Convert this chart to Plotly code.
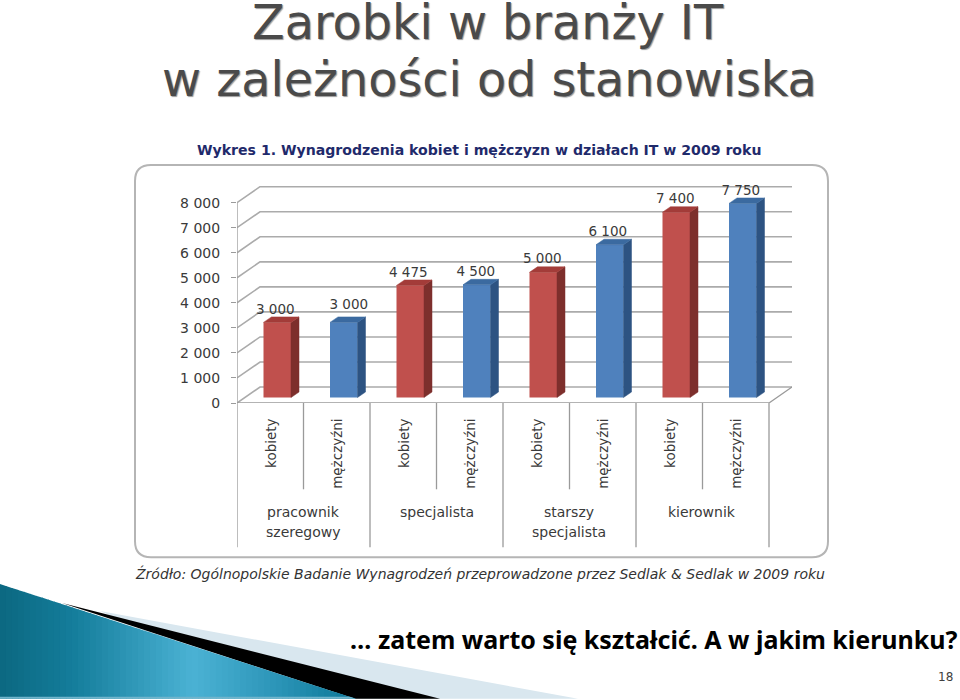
import plotly.graph_objects as go

W, H = 960, 700
categories = ["kobiety", "mężczyźni"] * 4
groups = [["pracownik", "szeregowy"], ["specjalista"], ["starszy", "specjalista"], ["kierownik"]]
values = [3000, 3000, 4475, 4500, 5000, 6100, 7400, 7750]
value_labels = ["3 000", "3 000", "4 475", "4 500", "5 000", "6 100", "7 400", "7 750"]
y_ticks = [0, 1000, 2000, 3000, 4000, 5000, 6000, 7000, 8000]
y_tick_labels = ["0", "1 000", "2 000", "3 000", "4 000", "5 000", "6 000", "7 000", "8 000"]
RED, RED_S, RED_T = "#c0504d", "#7d2f2c", "#a33c39"
BLUE, BLUE_S, BLUE_T = "#4f81bd", "#2d5382", "#3b6aa0"
GRID = "#ababab"
TXT = "#3a3a3a"

# plot area pixels
L, R, T, B = 237, 792, 186, 403.5
UX = 66.5    # px per category
UY = 0.0251  # px per unit
xmax = (R - L) / UX
ymax = (B - T) / UY
DX, DY = 23 / UX, 16 / UY          # full depth of the box
BX, BY = 7 / UX, 5.5 / UY          # bar front face offset
SX, SY = 8 / UX, 5.5 / UY          # bar depth
BW = 27.5 / UX
LABEL_DX = [-6 / UX, 1 / UX, -6 / UX, -5 / UX, -5 / UX, -6 / UX, -5 / UX, -6 / UX]
LABEL_DY = [0, 5 / UY, 0, 0, 0, 0, 0, 0]

def py(p):
    return 1 - (p - T) / (B - T)

def px(p):
    return (p - L) / (R - L)

fig = go.Figure()
grid_line = dict(color=GRID, width=1.6)

# walls: back gridlines and left-wall diagonals
for v in y_ticks:
    fig.add_trace(go.Scatter(x=[0, DX, xmax], y=[v, v + DY, v + DY], mode="lines",
                             line=grid_line, hoverinfo="skip", showlegend=False, cliponaxis=False))
fig.add_trace(go.Scatter(x=[0, 0], y=[0, 8000], mode="lines",
                         line=dict(color="#9a9a9a", width=1.3), hoverinfo="skip", showlegend=False, cliponaxis=False))
fig.add_trace(go.Scatter(x=[0, 8, xmax], y=[0, 0, DY], mode="lines",
                         line=dict(color="#9a9a9a", width=1.3), hoverinfo="skip", showlegend=False, cliponaxis=False))

# bars with side and top faces, on an overlay so they sit above the gridlines
xc = [i + 0.5 + BX for i in range(8)]
colors = [(RED, RED_S, RED_T) if i % 2 == 0 else (BLUE, BLUE_S, BLUE_T) for i in range(8)]
for xi, v, (c, cs, ct) in zip(xc, values, colors):
    xr = xi + BW / 2
    xl = xi - BW / 2
    fig.add_trace(go.Scatter(x=[xr, xr + SX, xr + SX, xr, xr], y=[BY, BY + SY, BY + v + SY, BY + v, BY],
                             mode="lines", fill="toself", fillcolor=cs, line=dict(color=cs, width=0.5),
                             hoverinfo="skip", showlegend=False, xaxis="x2", yaxis="y2"))
    fig.add_trace(go.Scatter(x=[xl, xl + SX, xr + SX, xr, xl], y=[BY + v, BY + v + SY, BY + v + SY, BY + v, BY + v],
                             mode="lines", fill="toself", fillcolor=ct, line=dict(color=ct, width=0.5),
                             hoverinfo="skip", showlegend=False, xaxis="x2", yaxis="y2"))
fig.add_trace(go.Bar(x=xc, y=values, base=BY, width=BW, marker=dict(color=[c[0] for c in colors], line=dict(width=0)),
                     showlegend=False, hoverinfo="skip", xaxis="x2", yaxis="y2"))
fig.add_trace(go.Scatter(x=[x + SX / 2 + d for x, d in zip(xc, LABEL_DX)],
                         y=[v + BY + SY + d for v, d in zip(values, LABEL_DY)], mode="text", text=value_labels,
                         textposition="top center", textfont=dict(family="DejaVu Sans", size=13.5, color=TXT),
                         hoverinfo="skip", showlegend=False, cliponaxis=False, xaxis="x2", yaxis="y2"))

shapes = []
x0, x1, y0, y1, rad = 135, 828, 165, 558, 16
def P(x, y):
    return f"{px(x):.5f} {py(y):.5f}"
path = (f"M {P(x0 + rad, y0)} L {P(x1 - rad, y0)} Q {P(x1, y0)} {P(x1, y0 + rad)} "
        f"L {P(x1, y1 - rad)} Q {P(x1, y1)} {P(x1 - rad, y1)} L {P(x0 + rad, y1)} "
        f"Q {P(x0, y1)} {P(x0, y1 - rad)} L {P(x0, y0 + rad)} Q {P(x0, y0)} {P(x0 + rad, y0)} Z")
shapes.append(dict(type="path", xref="paper", yref="paper", path=path, line=dict(color="#b5b5b5", width=2),
                   fillcolor="rgba(0,0,0,0)", layer="below"))

# category separators
for i in range(9):
    bottom = 548 if i % 2 == 0 else 490
    shapes.append(dict(type="line", xref="x", yref="paper", x0=i, x1=i, y0=py(403.5), y1=py(bottom),
                       line=dict(color="#9a9a9a", width=1.3)))

# bottom-left decoration
def poly(pts, color):
    return dict(type="path", xref="paper", yref="paper", line=dict(width=0), fillcolor=color, layer="below",
                path="M " + " L ".join(P(a, b) for a, b in pts) + " Z")

shapes.append(poly([(100, 612), (578, 700), (300, 700)], "#d9e7ef"))
shapes.append(poly([(62, 604), (440, 700), (355, 700)], "#000000"))
top = lambda x: 585 + x * 115 / 356
stops = [(0, (12, 105, 130)), (70, (20, 125, 155)), (190, (75, 178, 212)), (270, (45, 150, 185)), (356, (10, 118, 150))]
def col(x):
    for (a, ca), (b, cb) in zip(stops, stops[1:]):
        if a <= x <= b:
            t = (x - a) / (b - a)
            return "#%02x%02x%02x" % tuple(round(p + (q - p) * t) for p, q in zip(ca, cb))
    return "#0a7696"
step = 6
for x in range(0, 356, step):
    xe = min(x + step + 0.6, 356)
    shapes.append(poly([(x, top(x)), (xe, top(xe)), (xe, 700), (x, 700)], col(x)))
shapes.append(poly([(0, 698), (350, 698), (356, 700), (0, 700)], "#6fb4cb"))

ann = []
def text(x, y, s, size, color=TXT, family="DejaVu Sans", anchor="center", bold=False, italic=False, shadow=None):
    if bold:
        s = f"<b>{s}</b>"
    if italic:
        s = f"<i>{s}</i>"
    font = dict(family=family, size=size, color=color)
    if shadow:
        font["shadow"] = shadow
    ann.append(dict(xref="paper", yref="paper", x=px(x), y=py(y), text=s, showarrow=False, xanchor=anchor,
                    yanchor="middle", align="center", font=font))

soft = "1px 1px 1px rgba(0,0,0,0.4)"
text(488, 22, "Zarobki w branży IT", 47.7, color="#4a4a4a", shadow=soft)
text(489, 79, "w zależności od stanowiska", 47.7, color="#4a4a4a", shadow=soft)
text(479, 150, "Wykres 1. Wynagrodzenia kobiet i mężczyzn w działach IT w 2009 roku", 14.1, color="#1f2a6b", bold=True)
text(479.5, 574, "Źródło: Ogólnopolskie Badanie Wynagrodzeń przeprowadzone przez Sedlak &amp; Sedlak w 2009 roku", 14, color="#333333", italic=True)
text(960, 640, "… zatem warto się kształcić. A w jakim kierunku?", 25, color="#000000", family="Noto Sans", anchor="right", bold=True)
text(955, 678, "18", 12, color="#404040", anchor="right")
group_x = [303, 437, 569, 702]
for gx, lines in zip(group_x, groups):
    for j, line in enumerate(lines):
        text(gx, 513 + 20 * j, line, 14)

axis2 = dict(visible=False, fixedrange=True)
fig.update_layout(
    width=W, height=H, paper_bgcolor="white", plot_bgcolor="rgba(0,0,0,0)", showlegend=False,
    margin=dict(l=L, r=W - R, t=T, b=H - B, autoexpand=False),
    xaxis=dict(range=[0, xmax], tickvals=[i + 0.52 for i in range(8)], ticktext=categories, tickangle=-90,
               showgrid=False, zeroline=False, ticks="outside", ticklen=9, tickcolor="rgba(0,0,0,0)",
               tickfont=dict(family="DejaVu Sans", size=13.5, color=TXT), showline=False),
    yaxis=dict(range=[0, ymax], tickvals=y_ticks, ticktext=y_tick_labels, showgrid=False, zeroline=False,
               ticks="outside", ticklen=5, tickcolor="#9a9a9a", tickfont=dict(family="DejaVu Sans", size=14, color=TXT),
               showline=False, ticklabelstandoff=8),
    xaxis2=dict(range=[0, xmax], overlaying="x", **axis2),
    yaxis2=dict(range=[0, ymax], overlaying="y", **axis2),
    shapes=shapes, annotations=ann,
)
fig.write_html("out.html", post_script="document.body.style.margin='0';document.documentElement.style.overflow='hidden';",
               config=dict(displayModeBar=False))
